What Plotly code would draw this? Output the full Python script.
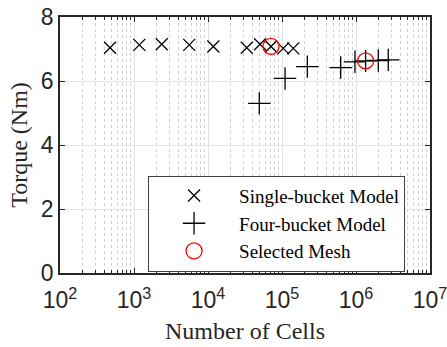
import plotly.graph_objects as go
import numpy as np

# Single-bucket model
single_cells = [474, 1180, 2370, 5580, 11800, 33400, 50500, 71000, 104000, 142000]
single_torque = [7.04, 7.13, 7.15, 7.13, 7.08, 7.04, 7.15, 7.08, 7.02, 7.02]

# Four-bucket model
four_cells = [49300, 110000, 220000, 621000, 968000, 1350000, 2000000, 2730000]
four_torque = [5.30, 6.08, 6.45, 6.42, 6.60, 6.63, 6.64, 6.66]

# Selected meshes
sel_cells = [71000, 1350000]
sel_torque = [7.08, 6.63]

x_tickvals = [1e2, 1e3, 1e4, 1e5, 1e6, 1e7]
x_ticktext = ["10<sup>2</sup>", "10<sup>3</sup>", "10<sup>4</sup>", "10<sup>5</sup>", "10<sup>6</sup>", "10<sup>7</sup>"]
minor_vals = [m * 10**e for e in range(2, 7) for m in range(2, 10)]

serif = "Liberation Serif, Times New Roman, serif"
sans = "Liberation Sans, Arial, sans-serif"

fig = go.Figure()
fig.add_trace(go.Scatter(x=single_cells, y=single_torque, mode="markers", name="Single-bucket Model",
                         marker=dict(symbol="x-thin-open", size=12, color="black", line=dict(width=1.3, color="black"))))
fig.add_trace(go.Scatter(x=four_cells, y=four_torque, mode="markers", name="Four-bucket Model",
                         marker=dict(symbol="cross-thin-open", size=16, color="black", line=dict(width=1.3, color="black"))))
fig.add_trace(go.Scatter(x=sel_cells, y=sel_torque, mode="markers", name="Selected Mesh",
                         marker=dict(symbol="circle-open", size=16, color="red", line=dict(width=1.3, color="red"))))

fig.update_layout(
    width=447, height=347,
    margin=dict(l=60, r=17, t=17, b=74),
    plot_bgcolor="white", paper_bgcolor="white",
    showlegend=True,
    legend=dict(x=0.238, y=0.38, xanchor="left", yanchor="top",
                bordercolor="#404040", borderwidth=1, bgcolor="white",
                font=dict(family=serif, size=19, color="black"),
                itemwidth=80, tracegroupgap=0),
)
fig.update_xaxes(type="log", range=[2, 7], tickmode="array", tickvals=x_tickvals, ticktext=x_ticktext,
                 ticks="inside", ticklen=5, tickcolor="#262626", showline=True, linecolor="#262626", linewidth=1.5,
                 mirror="allticks", showgrid=True, gridcolor="#e3e3e3", gridwidth=1,
                 tickfont=dict(family=sans, size=23, color="#262626"), ticklabelstandoff=6,
                 ticklabeloverflow="allow", automargin=False,
                 title=dict(text="Number of Cells", font=dict(family=serif, size=24, color="#262626"), standoff=10),
                 minor=dict(tickvals=minor_vals, ticks="inside", ticklen=3, tickcolor="#262626",
                            showgrid=True, gridcolor="#d0d0d0", griddash="dot", gridwidth=1),
                 zeroline=False)
fig.update_yaxes(range=[0, 8], tickmode="array", tickvals=[0, 2, 4, 6, 8],
                 ticks="inside", ticklen=5, tickcolor="#262626", showline=True, linecolor="#262626", linewidth=1.5,
                 mirror="allticks", showgrid=True, gridcolor="#e3e3e3", gridwidth=1,
                 tickfont=dict(family=sans, size=23, color="#262626"), automargin=False,
                 title=dict(text="Torque (Nm)", font=dict(family=serif, size=24, color="#262626"), standoff=6),
                 zeroline=False)

fig.write_html("out.html")
